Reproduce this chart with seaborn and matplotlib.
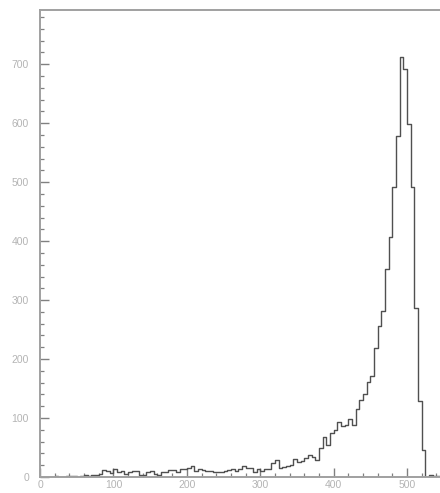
import numpy as np
import pandas as pd
import matplotlib
matplotlib.use("Agg")
import matplotlib.pyplot as plt
import seaborn as sns
from matplotlib.ticker import MultipleLocator

# bin edges: width 5 from 0 to 550
bin_width = 5
bin_starts = list(range(0, 550, bin_width))

# counts per bin
counts = [
    0, 0, 0, 0, 1, 0, 0, 1, 2, 1,          # 0 - 45
    0, 2, 3, 2, 4, 3, 5, 12, 11, 6,        # 50 - 95
    14, 9, 11, 5, 8, 10, 10, 4, 3, 8,      # 100 - 145
    11, 5, 4, 8, 9, 12, 12, 9, 14, 14,     # 150 - 195
    15, 18, 10, 13, 12, 11, 10, 9, 8, 8,   # 200 - 245
    10, 12, 13, 11, 14, 18, 16, 15, 9, 14, # 250 - 295
    10, 13, 14, 23, 28, 16, 17, 18, 20, 31, # 300 - 345
    26, 27, 32, 37, 34, 29, 50, 67, 55, 74, # 350 - 395
    80, 94, 86, 88, 98, 88, 115, 130, 140, 161, # 400 - 445
    171, 218, 256, 281, 352, 407, 492, 578, 712, 692, # 450 - 495
    598, 492, 287, 129, 46, 0, 3, 2, 1, 0,  # 500 - 545
]

x_ticks = [0, 100, 200, 300, 400, 500]
y_ticks = [0, 100, 200, 300, 400, 500, 600, 700]

df = pd.DataFrame({"value": np.array(bin_starts) + bin_width / 2, "count": counts})
edges = list(range(0, 550 + bin_width, bin_width))

fig = plt.figure(figsize=(4.40, 4.93), dpi=100)
ax = fig.add_axes([40 / 440, 16 / 493, 1 - 40 / 440 + 0.002, 467 / 493])

sns.histplot(data=df, x="value", weights="count", bins=edges, element="step", fill=False,
             color="#505050", linewidth=1.0, ax=ax)

ax.set_xlim(0, 546)
ax.set_ylim(0, 792)
ax.set_xlabel("")
ax.set_ylabel("")
ax.set_xticks(x_ticks)
ax.set_yticks(y_ticks)
ax.xaxis.set_minor_locator(MultipleLocator(20))
ax.yaxis.set_minor_locator(MultipleLocator(20))

for side in ["left", "top", "bottom"]:
    ax.spines[side].set_color("#a0a0a0")
    ax.spines[side].set_linewidth(1.4)
ax.spines["right"].set_visible(False)

ax.tick_params(which="major", direction="in", length=6.5, width=1.0, color="#808080",
               labelsize=7.5, labelcolor="#b4b4b4")
ax.tick_params(which="minor", direction="in", length=3, width=0.9, color="#808080")
ax.tick_params(axis="y", which="major", pad=8)
ax.tick_params(axis="x", which="major", pad=2.5)
for lab in ax.get_xticklabels() + ax.get_yticklabels():
    lab.set_family("Liberation Sans")

fig.savefig("out.png", dpi=100)
